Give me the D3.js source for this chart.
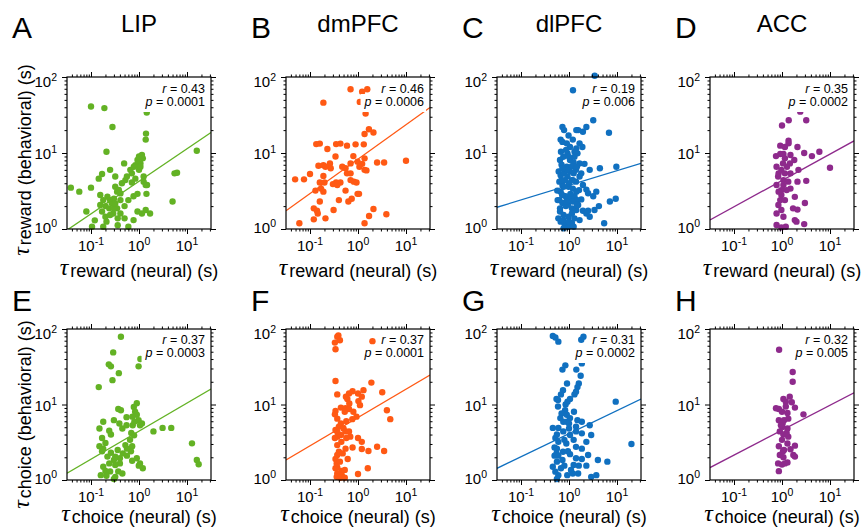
<!DOCTYPE html>
<html>
<head>
<meta charset="utf-8">
<script src="https://cdn.jsdelivr.net/npm/d3@7"></script>
<style>
body { margin: 0; background: #fff; }
text { font-family: "Liberation Sans", Arial, sans-serif; fill: #000; }
</style>
</head>
<body>
<div id="chart"></div>
<script>
// panel labels and areas
const areas = ["LIP", "dmPFC", "dlPFC", "ACC"];
const letters = ["A", "B", "C", "D", "E", "F", "G", "H"];
const rowKinds = ["reward", "choice"];
const colors = ["#63b224", "#ff5914", "#1070c0", "#8e2a8c"];

// stats and regression fits (log-log: log10 y = log10(fitAt1) + slope * log10 x)
const rVals = ["0.43", "0.46", "0.19", "0.35", "0.37", "0.37", "0.31", "0.32"];
const pVals = ["0.0001", "0.0006", "0.006", "0.0002", "0.0003", "0.0001", "0.0002", "0.005"];
const fitSlope = [0.428, 0.453, 0.193, 0.347, 0.372, 0.375, 0.306, 0.33];
const fitAt1 = [4.24, 8.3, 3.76, 4.35, 4.44, 6.73, 4.11, 4.57];

// ticks
const xTicks = [0.1, 1, 10];
const xTickExp = ["-1", "0", "1"];
const yTicks = [1, 10, 100];
const yTickExp = ["0", "1", "2"];

// [tau neural, tau behavioral] per neuron
const lipReward = [[0.1,41],[0.19,39],[0.28,22],[0.21,10.4],[1.4,18],[1.38,15],[1.45,34],[16,10.7],[0.038,3.5],[0.057,3.1],[0.1,3.5],[0.08,1.7],[0.105,1.07],[0.12,1.3],[0.17,5.3],[0.145,4.6],[0.156,2.8],[0.25,6.0],[0.32,4.9],[0.49,7.3],[0.44,4.0],[0.35,3.1],[0.71,4.1],[0.84,4.6],[0.84,6.9],[1.07,7.3],[1.2,8.5],[1.0,6.0],[0.71,5.4],[1.25,4.9],[1.47,3.8],[1.43,2.9],[0.93,2.9],[0.77,2.7],[0.6,2.4],[0.41,2.4],[0.5,2.0],[0.25,2.4],[0.2,2.0],[0.17,1.7],[0.2,1.45],[0.21,1.25],[0.18,1.07],[0.29,1.6],[0.36,1.38],[0.27,2.2],[0.24,1.87],[0.35,1.87],[0.5,1.38],[0.77,1.31],[0.93,1.7],[1.15,1.6],[1.38,1.78],[1.7,1.6],[0.6,1.07],[0.36,1.12],[5.0,2.3],[5.5,5.4],[6.2,5.5],[0.156,2.07],[0.18,2.4],[0.22,2.66],[0.3,2.5],[0.32,3.6],[0.38,3.26],[0.41,2.94],[0.52,4.4],[0.56,4.9],[0.66,6.0],[0.78,6.6],[0.93,8.1],[1.0,9.0],[1.15,9.4],[1.07,6.6],[1.25,4.2],[1.38,3.8],[0.3,1.87],[0.25,1.53],[0.41,1.6],[0.32,2.17]];
const dmpfcReward = [[0.7,69],[1.22,64],[1.56,69],[1.09,47],[0.19,46],[1.44,33],[1.69,20.5],[2.1,18.6],[1.37,17.8],[0.135,13.1],[0.16,13.3],[0.35,13.1],[0.43,13.3],[0.59,12.5],[0.89,13],[1.32,13],[0.23,11.3],[0.34,9.0],[0.8,9.1],[1.37,8.5],[2.5,7.5],[3.5,7.5],[10,7.9],[0.98,7.7],[0.7,7.3],[1.22,7.2],[0.15,6.8],[0.19,6.9],[0.26,7.3],[0.27,6.3],[0.21,6.6],[0.47,6.6],[0.55,6.3],[1.07,6.6],[1.37,6.0],[1.5,5.9],[0.59,5.4],[0.7,5.4],[0.1,5.3],[0.049,4.5],[0.075,4.5],[0.19,5.0],[0.16,4.1],[0.2,4.1],[0.3,3.9],[0.35,4.1],[0.43,4.1],[0.37,3.8],[0.7,4.4],[0.82,4.2],[0.93,4.1],[0.17,3.4],[0.19,3.1],[0.13,3.2],[0.55,3.2],[0.98,2.9],[1.05,2.9],[0.16,2.3],[0.4,2.4],[0.63,2.3],[0.74,2.5],[0.12,1.87],[0.14,1.74],[0.145,1.6],[0.31,1.78],[2.1,1.83],[1.7,1.48],[3.9,1.56],[0.12,1.34],[0.21,1.38],[0.06,1.19],[1.37,1.19]];
const dlpfcReward = [[1.21,67],[3.43,104],[3.2,27],[6.8,18.5],[9.7,6.6],[4.4,6.3],[2.7,6.0],[7.1,2.3],[9.4,2.5],[5.4,1.19],[4.2,2.0],[3.7,3.1],[3.2,2.7],[2.3,3.3],[3.4,1.78],[2.5,1.74],[1.95,1.74],[1.55,2.07],[2.7,1.45],[2.3,1.6],[1.8,2.45],[1.95,3.8],[2.5,2.95],[1.66,7.3],[2.1,7.2],[1.42,11.5],[1.66,13.4],[1.9,12],[1.55,20],[1.95,19],[2.3,22],[0.73,22],[0.79,20],[0.98,17],[1.42,20],[1.2,15],[0.67,15],[0.73,14],[0.68,10.4],[0.93,9.9],[0.65,8.1],[1.05,8.1],[1.25,7.5],[1.15,6.7],[1.4,6.0],[0.61,5.7],[0.67,5.1],[0.79,5.4],[0.93,4.9],[1.15,4.4],[1.4,4.2],[1.66,4.9],[1.8,5.4],[0.63,4.2],[0.73,3.8],[0.98,3.6],[1.2,3.4],[1.42,3.1],[0.67,3.1],[0.85,2.7],[1.05,2.5],[1.3,2.7],[0.63,2.4],[0.73,2.2],[0.86,2.0],[1.15,1.87],[1.42,1.78],[0.65,1.7],[0.77,1.53],[0.98,1.45],[0.6,1.38],[0.67,1.25],[0.81,1.16],[0.98,1.07],[1.15,1.2],[1.3,1.38],[1.66,1.31],[0.77,1.02],[0.58,2.4],[0.57,3.2],[1.05,5.7],[0.9,6.6],[0.76,8.9],[0.7,7.0],[1.3,8.9],[1.5,9.9],[1.05,12],[0.9,13.4],[0.95,2.1],[1.2,2.3],[1.5,2.4],[0.77,3.6],[1.2,4.4],[1.0,4.0],[1.07,2.9],[0.82,4.4],[1.25,5.4],[0.92,6.0],[0.73,6.3],[1.46,6.6],[1.3,10.4],[0.87,11],[1.0,8.9],[0.72,2.8],[0.88,2.3],[1.15,1.6],[1.46,2.07],[0.65,1.87],[0.77,1.31],[1.0,1.25],[1.25,1.07],[0.7,4.4],[1.62,3.25]];
const accReward = [[2.4,35],[1.38,27],[1.0,23],[3.2,27],[1.37,14.5],[1.37,13.4],[0.92,12.5],[1.15,12],[2.1,12],[2.9,10],[4.2,9.1],[6.0,10.4],[10,6.4],[0.75,9.1],[0.92,9.7],[1.07,9.7],[0.77,6.6],[0.97,6.0],[1.46,7.3],[1.8,8.1],[2.2,6.0],[1.15,5.4],[1.5,5.4],[0.83,4.9],[1.07,4.4],[1.35,4.2],[2.1,4.2],[3.2,4.3],[0.77,3.8],[0.97,3.25],[1.5,3.4],[0.97,2.8],[0.92,2.4],[1.85,2.65],[3.0,2.2],[0.84,2.07],[0.97,1.78],[0.77,1.6],[1.07,1.45],[1.7,1.87],[2.1,1.8],[1.85,1.31],[2.0,1.25],[2.9,1.16],[0.77,1.13],[0.97,1.05],[1.2,1.07],[1.15,2.4],[1.25,3.25],[0.85,5.4],[1.27,6.6],[1.05,7.3],[1.15,8.5],[1.5,9.4],[0.85,3.1],[1.07,3.8]];
const lipChoice = [[0.42,79],[0.29,49],[0.235,34],[0.26,32],[0.38,26],[0.28,21],[0.145,17],[1.07,40],[0.98,32],[0.9,10.4],[0.78,9.3],[0.37,8.7],[0.42,8.4],[0.83,8.0],[0.9,7.3],[0.55,6.8],[0.73,6.9],[0.98,6.2],[1.15,5.6],[1.05,5.3],[0.18,5.9],[0.3,6.2],[0.39,5.6],[0.74,5.3],[2.0,4.4],[3.1,4.9],[4.7,4.9],[0.15,4.8],[0.24,4.5],[0.26,4.0],[0.17,3.6],[0.69,4.2],[0.79,3.9],[0.65,3.4],[0.52,2.9],[0.72,2.8],[12.7,3.06],[0.15,2.8],[0.17,2.4],[0.22,2.04],[0.3,1.84],[0.4,1.94],[0.56,2.1],[0.68,2.4],[0.9,1.94],[1.05,1.66],[1.2,1.43],[0.99,1.55],[0.4,1.66],[0.32,1.58],[0.24,1.66],[0.18,1.5],[0.2,1.32],[0.25,1.3],[0.37,1.3],[0.45,1.22],[0.16,1.16],[0.21,1.14],[0.32,1.1],[0.3,1.03],[16,1.84],[17.5,1.62],[0.56,2.6],[0.46,2.25],[0.36,2.5],[0.2,3.1],[0.72,1.8],[0.45,4.8],[0.55,5.3],[0.8,5.9],[0.18,2.6],[0.26,2.3],[0.32,2.04]];
const dmpfcChoice = [[0.37,79],[0.42,71],[0.33,66],[0.34,54],[0.39,82],[2.0,69],[0.34,20.5],[1.9,19.5],[1.3,15.5],[0.77,15],[0.65,14],[0.56,12.7],[0.6,11.8],[3.2,14.5],[0.37,13.6],[1.02,11.1],[1.1,9.8],[1.2,12.7],[0.44,9.1],[0.55,8.9],[0.65,8.7],[0.53,8.0],[4.0,8.4],[4.7,6.4],[0.93,6.9],[0.76,6.4],[0.34,8.2],[0.37,6.5],[0.33,7.4],[0.44,5.6],[0.4,5.1],[0.5,4.8],[0.34,4.6],[0.37,3.75],[0.33,3.6],[0.44,3.95],[0.55,4.4],[0.65,4.4],[0.69,3.75],[1.0,3.6],[1.2,3.2],[0.77,2.7],[0.37,2.9],[0.4,2.37],[0.37,2.14],[0.34,1.9],[0.61,1.9],[0.37,1.47],[0.34,1.43],[0.45,1.32],[0.37,1.22],[0.46,1.16],[0.36,1.1],[0.43,1.07],[0.53,1.07],[1.0,1.2],[1.6,1.43],[1.2,2.57],[1.65,2.42],[2.5,2.76],[3.5,2.42],[0.53,1.36],[0.36,1.66],[0.42,1.75],[0.48,2.25],[0.55,2.6],[0.45,3.2],[0.57,3.6],[0.37,4.4],[0.57,6.0],[0.8,8.0],[0.66,10.3],[1.0,14]];
const dlpfcChoice = [[0.46,81],[0.52,77],[0.6,68],[1.8,72],[2.0,79],[1.85,35],[0.84,33],[0.73,29],[1.42,29],[1.75,24],[0.91,19],[1.6,19],[1.5,17],[1.4,14.8],[0.75,15.5],[0.68,13.6],[1.3,13.6],[1.05,11.8],[0.93,10.9],[0.55,11.8],[0.59,11.5],[9.4,10.9],[0.59,9.4],[0.83,8.4],[0.7,7.6],[0.9,7.3],[1.05,6.6],[0.9,5.9],[1.85,5.9],[2.7,5.3],[1.4,5.1],[0.46,4.9],[0.6,4.9],[0.76,4.4],[1.05,3.95],[1.85,4.15],[2.9,3.95],[0.52,3.6],[0.6,3.2],[0.88,3.05],[1.25,3.4],[1.85,2.6],[0.5,2.7],[0.55,2.25],[0.75,2.37],[1.05,2.2],[1.4,1.94],[1.85,1.9],[2.5,2.14],[20,3.0],[0.56,1.75],[0.8,1.55],[1.25,1.58],[1.6,1.55],[2.3,1.55],[4.0,1.84],[6.3,1.75],[0.52,1.29],[0.6,1.16],[0.56,1.03],[0.92,1.16],[1.2,1.22],[2.9,1.1],[3.7,1.16],[0.68,1.43],[0.5,2.1],[0.56,4.0],[0.76,5.9],[1.0,4.8],[0.66,6.6],[0.85,10],[1.27,8.0],[0.56,2.6],[0.95,2.4],[1.4,2.75],[0.73,1.84],[1.1,1.36],[1.55,1.22],[0.46,1.5],[0.6,2.1],[0.8,3.4],[1.0,5.6],[1.4,4.4],[1.5,6.2],[2.3,3.2]];
const accChoice = [[0.87,53],[1.67,27],[1.67,20],[1.45,12.7],[1.07,11.8],[0.86,8.7],[1.2,10.9],[1.6,10.7],[1.86,9.1],[2.8,7.4],[1.0,8.0],[1.3,7.7],[0.86,6.2],[1.1,6.2],[1.35,6.5],[1.0,5.1],[1.3,4.8],[0.9,4.4],[1.07,4.0],[1.35,3.75],[1.0,3.4],[1.3,3.05],[1.86,2.85],[0.86,2.8],[1.1,2.5],[1.5,2.55],[0.9,2.14],[1.07,2.0],[1.72,2.14],[1.86,2.04],[1.3,1.71],[0.83,1.66],[1.0,1.6],[1.15,1.66],[0.86,1.31],[1.03,5.6],[1.2,9.4],[0.75,8.9],[0.95,5.3],[1.25,4.2],[1.05,2.4]];

const panelData = [lipReward, dmpfcReward, dlpfcReward, accReward,
                   lipChoice, dmpfcChoice, dlpfcChoice, accChoice];

const W = 865, H = 527;
const colLeft = [67, 286, 497, 710], boxW = 144;
const rowTop = [77, 329], rowH = [152, 151];
const xLabelY = [277, 523];
const letterY = [38, 311];

const svg = d3.select("#chart").append("svg")
    .attr("width", W)
    .attr("height", H);

const defs = svg.append("defs");

// minor tick values for log axes
function minors(lo, hi) {
    const out = [];
    for (let e = -3; e <= 3; e++) {
        for (let m = 2; m <= 9; m++) {
            const v = m * Math.pow(10, e);
            if (v > lo && v < hi) out.push(v);
        }
    }
    return out;
}

function tickAxis(g, axisFn, scale, values, size) {
    g.call(axisFn(scale).tickValues(values).tickSize(size).tickSizeOuter(0).tickFormat(""));
    g.select(".domain").remove();
    g.selectAll("line").attr("stroke", "#000").attr("stroke-width", 1);
}

panelData.forEach((data, i) => {
    const row = Math.floor(i / 4), col = i % 4;
    const left = colLeft[col], top = rowTop[row], h = rowH[row];
    const color = colors[col];

    const x = d3.scaleLog().domain([Math.pow(10, -1.5), Math.pow(10, 1.5)]).range([left, left + boxW]);
    const y = d3.scaleLog().domain([1, 100]).range([top + h, top]);

    // clip for the fit line
    defs.append("clipPath").attr("id", "clip" + i)
        .append("rect").attr("x", left).attr("y", top).attr("width", boxW).attr("height", h);

    const g = svg.append("g");

    // points
    g.selectAll("circle")
        .data(data)
        .join("circle")
        .attr("cx", d => x(d[0]))
        .attr("cy", d => y(d[1]))
        .attr("r", 3.2)
        .attr("fill", color);

    // regression line
    const xd = x.domain();
    const fit = v => fitAt1[i] * Math.pow(v, fitSlope[i]);
    g.append("path")
        .attr("clip-path", `url(#clip${i})`)
        .attr("fill", "none")
        .attr("stroke", color)
        .attr("stroke-width", 1.3)
        .attr("d", d3.line().x(d => x(d)).y(d => y(fit(d)))(xd));

    // r / p text, each line on a white background (backgrounds under both lines)
    const bgLayer = g.append("g");
    const txtLayer = g.append("g");
    const statLines = [
        { lab: "r", val: rVals[i], dy: 16 },
        { lab: "p", val: pVals[i], dy: 29 }
    ];
    statLines.forEach(s => {
        const t = txtLayer.append("text")
            .attr("x", left + boxW - 6)
            .attr("y", top + s.dy - (row === 1 ? 1 : 0))
            .attr("text-anchor", "end")
            .style("font-size", "12.5px");
        t.append("tspan").style("font-style", "italic").text(s.lab);
        t.append("tspan").text(" = " + s.val);
        const bb = t.node().getBBox();
        bgLayer.append("rect")
            .attr("x", bb.x - 3)
            .attr("y", bb.y - 1)
            .attr("width", bb.width + 5)
            .attr("height", bb.height + 4)
            .attr("fill", "#fff");
    });

    // axes: ticks outward on all four sides
    const ax = svg.append("g");
    tickAxis(ax.append("g").attr("transform", `translate(0,${top + h})`), d3.axisBottom, x, xTicks, 5);
    tickAxis(ax.append("g").attr("transform", `translate(0,${top + h})`), d3.axisBottom, x, minors(xd[0], xd[1]), 2.5);
    tickAxis(ax.append("g").attr("transform", `translate(0,${top})`), d3.axisTop, x, xTicks, 5);
    tickAxis(ax.append("g").attr("transform", `translate(0,${top})`), d3.axisTop, x, minors(xd[0], xd[1]), 2.5);
    tickAxis(ax.append("g").attr("transform", `translate(${left},0)`), d3.axisLeft, y, yTicks, 5);
    tickAxis(ax.append("g").attr("transform", `translate(${left},0)`), d3.axisLeft, y, minors(1, 100), 2.5);
    tickAxis(ax.append("g").attr("transform", `translate(${left + boxW},0)`), d3.axisRight, y, yTicks, 5);
    tickAxis(ax.append("g").attr("transform", `translate(${left + boxW},0)`), d3.axisRight, y, minors(1, 100), 2.5);

    ax.append("rect")
        .attr("x", left).attr("y", top)
        .attr("width", boxW).attr("height", h)
        .attr("fill", "none")
        .attr("stroke", "#000")
        .attr("stroke-width", 1.2);

    // tick labels with superscripts
    xTicks.forEach((v, k) => {
        const t = ax.append("text")
            .attr("x", x(v))
            .attr("y", top + h + 22)
            .attr("text-anchor", "middle")
            .style("font-size", "15px");
        t.append("tspan").text("10");
        t.append("tspan").attr("dy", -6).style("font-size", "10.5px").text(xTickExp[k]);
    });
    const yOff = [4, 6, 10];
    yTicks.forEach((v, k) => {
        const t = ax.append("text")
            .attr("x", left - 10)
            .attr("y", y(v) + yOff[k])
            .attr("text-anchor", "end")
            .style("font-size", "15px");
        t.append("tspan").text("10");
        t.append("tspan").attr("dy", -6).style("font-size", "10.5px").text(yTickExp[k]);
    });

    // x label
    const xl = svg.append("text")
        .attr("x", left + boxW / 2)
        .attr("y", xLabelY[row])
        .attr("text-anchor", "middle")
        .style("font-size", "18px");
    xl.append("tspan")
        .attr("dy", -2)
        .style("font-family", "'Liberation Serif', serif")
        .style("font-style", "italic")
        .style("font-size", "24px")
        .text("τ");
    xl.append("tspan").attr("dx", 2).attr("dy", 2).text(rowKinds[row] + " (neural) (s)");

    // y label on first column
    if (col === 0) {
        const yl = svg.append("text")
            .attr("transform", `translate(31,${top + h / 2 + (row === 0 ? 7 : 10)}) rotate(-90)`)
            .attr("text-anchor", "middle")
            .style("font-size", "18px");
        yl.append("tspan")
            .attr("dy", -2)
            .style("font-family", "'Liberation Serif', serif")
            .style("font-style", "italic")
            .style("font-size", "24px")
            .text("τ");
        yl.append("tspan").attr("dx", 2).attr("dy", 2).text(rowKinds[row] + " (behavioral) (s)");
    }

    // panel letter
    svg.append("text")
        .attr("x", col === 0 ? left - 55 : left - 35)
        .attr("y", letterY[row])
        .style("font-size", "30px")
        .text(letters[i]);

    // area title on top row
    if (row === 0) {
        svg.append("text")
            .attr("x", left + boxW / 2)
            .attr("y", 32)
            .attr("text-anchor", "middle")
            .style("font-size", "24px")
            .text(areas[col]);
    }
});
</script>
</body>
</html>
